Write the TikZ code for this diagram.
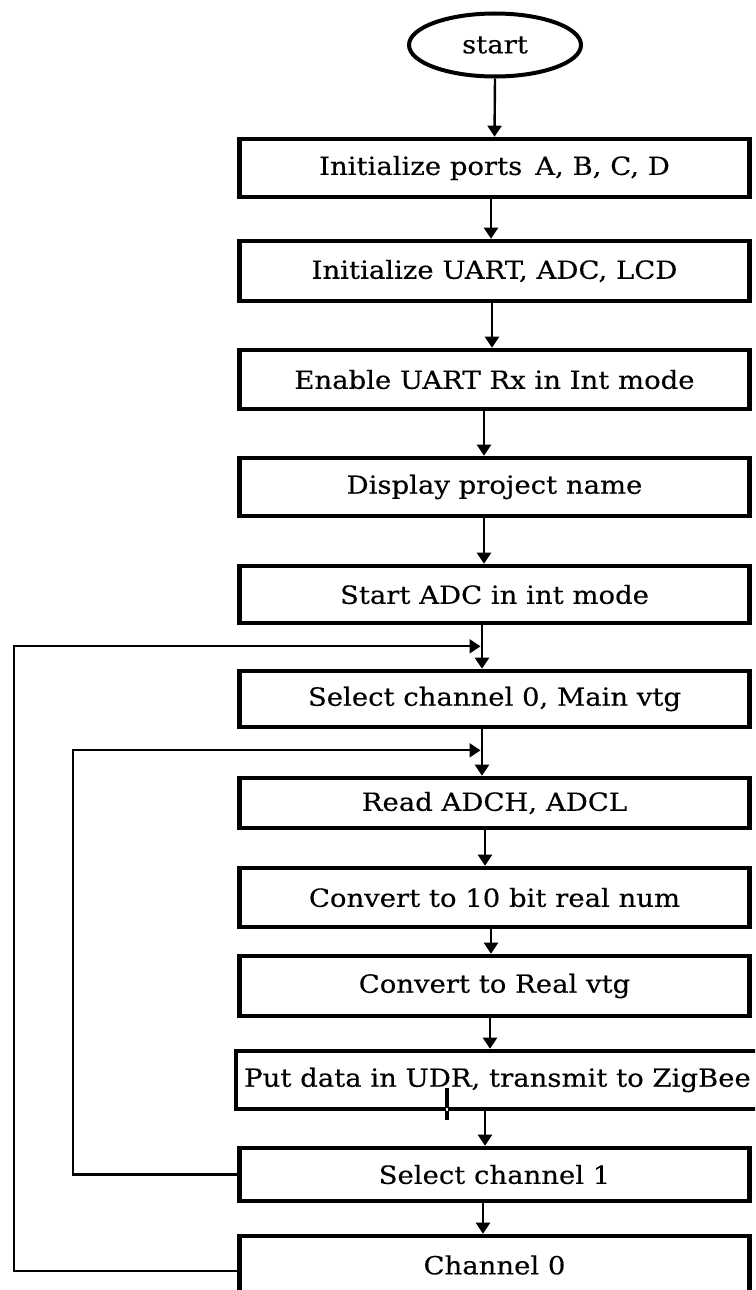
\documentclass[tikz,border=0pt]{standalone}
\usepackage{fontspec}
\setmainfont{DejaVu Serif}[FakeStretch=1.1, FakeBold=0.3]
\usetikzlibrary{arrows.meta,shapes.geometric}

\tikzset{
  stepbox/.style={draw=black, line width=4.6pt, minimum width=510pt,
    inner sep=0pt, font=\fontsize{25}{28}\selectfont, text=black},
  startshape/.style={draw=black, ellipse, line width=4pt, minimum width=172pt,
    minimum height=63pt, inner sep=0pt, font=\fontsize{25}{28}\selectfont},
  flow/.style={line width=2.4pt, -{Triangle[length=11pt,width=14pt]}},
  loopline/.style={line width=2.2pt, -{Triangle[length=11pt,width=14pt]}}
}

\begin{document}
\begin{tikzpicture}[x=1pt,y=-1pt]
  \useasboundingbox (0,0) rectangle (755,1290);
  \clip (0,0) rectangle (755,1290);

  % terminal
  \node[startshape] (start) at (495,45) {start};

  % process steps
  \node[stepbox, minimum height=58pt] (b1)  at (494.5,168)  {Initialize ports\, A, B, C, D};
  \node[stepbox, minimum height=60pt] (b2)  at (494.5,271)  {Initialize UART, ADC, LCD};
  \node[stepbox, minimum height=59pt] (b3)  at (494.5,379.5){Enable UART Rx in Int mode};
  \node[stepbox, minimum height=58pt] (b4)  at (494.5,487)  {Display project name};
  \node[stepbox, minimum height=57pt] (b5)  at (494.5,594.5){Start ADC in int mode};
  \node[stepbox, minimum height=56pt] (b6)  at (494.5,699)  {Select channel 0, Main vtg};
  \node[stepbox, minimum height=50pt] (b7)  at (494.5,803)  {Read ADCH, ADCL};
  \node[stepbox, minimum height=59pt] (b8)  at (494.5,897.5){Convert to 10 bit real num};
  \node[stepbox, minimum height=60pt] (b9)  at (494.5,986)  {Convert to Real vtg};
  \node[stepbox, minimum height=58pt, minimum width=523pt] (b10) at (497.5,1080) {Put data in UDR, transmit to ZigBee};
  \node[stepbox, minimum height=53pt] (b11) at (494.5,1174.5){Select channel 1};
  \node[stepbox, minimum height=58pt] (b12) at (494.5,1265) {Channel 0};

  % main flow
  \draw[flow] (start.south) -- (b1.north);
  \draw[flow] ([xshift=-3.5pt]b1.south)  -- ([xshift=-3.5pt]b2.north);
  \draw[flow] ([xshift=-2.5pt]b2.south)  -- ([xshift=-2.5pt]b3.north);
  \draw[flow] ([xshift=-10.5pt]b3.south) -- ([xshift=-10.5pt]b4.north);
  \draw[flow] ([xshift=-10.5pt]b4.south) -- ([xshift=-10.5pt]b5.north);
  \draw[flow] ([xshift=-12.5pt]b5.south) -- ([xshift=-12.5pt]b6.north);
  \draw[flow] ([xshift=-12.5pt]b6.south) -- ([xshift=-12.5pt]b7.north);
  \draw[flow] ([xshift=-9.5pt]b7.south)  -- ([xshift=-9.5pt]b8.north);
  \draw[flow] ([xshift=-3.5pt]b8.south)  -- ([xshift=-3.5pt]b9.north);
  \draw[flow] ([xshift=-4.5pt]b9.south)  -- ([xshift=-7.5pt]b10.north);
  \draw[flow] ([xshift=-12.5pt]b10.south)-- ([xshift=-9.5pt]b11.north);
  \draw[flow] ([xshift=-11.5pt]b11.south)-- ([xshift=-11.5pt]b12.north);

  % junctions on the main line where the loops re-enter
  \coordinate (j0) at ([xshift=-12.5pt,yshift=-21pt]b5.south);
  \coordinate (j1) at ([xshift=-12.5pt,yshift=-21pt]b6.south);

  % loop back after channel 1
  \draw[loopline] (b11.west) -- (73,1174.5) |- ([xshift=-1.5pt]j1);
  % loop back after channel 0
  \draw[loopline] ([yshift=-6pt]b12.west) -- (14,1271) |- ([xshift=-1.5pt]j0);

  % short stroke under the UDR label
  \draw[line width=3.2pt] (447,1088) -- (447,1120);
  \fill[white] (446,1108) rectangle (448,1111);
\end{tikzpicture}
\end{document}
